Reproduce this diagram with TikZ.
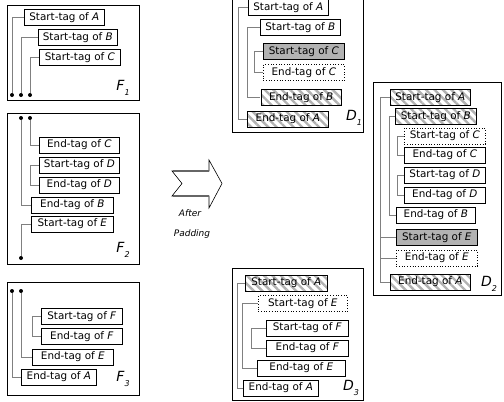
\documentclass[tikz,border=0pt]{standalone}
\usepackage{fontspec}
\setmainfont{DejaVu Sans}
\usetikzlibrary{patterns.meta}
\newcommand\lab[2]{\textit{#1}\raisebox{-0.6ex}{\fontsize{8}{9}\selectfont\textit{#2}}}
\tikzset{tag/.style={draw,line width=0.7pt,anchor=west,minimum height=16pt,inner sep=1pt,font=\fontsize{10.4}{12}\selectfont},
         padded/.style={tag,pattern={Lines[angle=-45,distance=6pt,line width=2.4pt]},pattern color=black!30},
         shaded/.style={tag,fill=black!30},
         dummy/.style={tag,dotted},
         frame/.style={draw,line width=0.9pt},
         conn/.style={draw=black!50,line width=1pt},
         dot/.style={circle,fill,inner sep=0pt,minimum size=4pt},
         panel/.style={font=\fontsize{14}{15}\selectfont},
        }

\begin{document}
\begin{tikzpicture}[x=1pt,y=-1pt]
        \useasboundingbox(0,0)rectangle(504,402);
        \draw[frame](7,5)rectangle(139,100);
        \draw[frame](7,113)rectangle(139,264);
        \draw[frame](7,282)rectangle(139,395);
        \draw[frame](232,-2)rectangle(363,132);
        \draw[frame](373,82)rectangle(501,295);
        \draw[frame](232,268)rectangle(363,400);

        \node[tag,minimum width=80pt](f1sA)at(24,17.5){Start-tag of \textit{A}};
        \node[tag,minimum width=79pt](f1sB)at(38,37.5){Start-tag of \textit{B}};
        \node[tag,minimum width=81pt](f1sC)at(39,57.5){Start-tag of \textit{C}};
        \node[dot](f1dA)at(12,95){};
        \node[dot](f1dB)at(21,95){};
        \node[dot](f1dC)at(30,95){};
        \node[panel](f1)at(123,88){\lab{F}{1}};
        \draw[conn](f1dA)|-(f1sA.west);
        \draw[conn](f1dB)|-(f1sB.west);
        \draw[conn](f1dC)|-(f1sC.west);

        \node[tag,minimum width=80pt](f2eC)at(39,145){End-tag of \textit{C}};
        \node[tag,minimum width=80pt](f2sD)at(39,165){Start-tag of \textit{D}};
        \node[tag,minimum width=80pt](f2eD)at(39,185){End-tag of \textit{D}};
        \node[tag,minimum width=82pt](f2eB)at(31,205){End-tag of \textit{B}};
        \node[tag,minimum width=82pt](f2sE)at(31,224){Start-tag of \textit{E}};
        \node[dot](f2dB)at(21,118){};
        \node[dot](f2dC)at(30,118){};
        \node[dot](f2dE)at(21,258){};
        \node[panel](f2)at(123,250){\lab{F}{2}};
        \draw[conn](f2dC)|-(f2eC.west);
        \draw[conn](f2dB)|-(f2eB.west);
        \draw[conn](f2dE)|-(f2sE.west);
        \draw[conn](f2sD.west)--++(-9,0)|-(f2eD.west);

        \node[tag,minimum width=81pt](f3sF)at(41,316.5){Start-tag of \textit{F}};
        \node[tag,minimum width=81pt](f3eF)at(41,336.5){End-tag of \textit{F}};
        \node[tag,minimum width=81pt](f3eE)at(32,357){End-tag of \textit{E}};
        \node[tag,minimum width=75pt](f3eA)at(21,377){End-tag of \textit{A}};
        \node[dot](f3dA)at(12,291){};
        \node[dot](f3dE)at(21,291){};
        \node[panel](f3)at(123,379){\lab{F}{3}};
        \draw[conn](f3dA)|-(f3eA.west);
        \draw[conn](f3dE)|-(f3eE.west);
        \draw[conn](f3sF.west)--++(-9,0)|-(f3eF.west);

        \draw[line width=0.6pt](172,171)--(182,183.5)--(172,196)--(209,196)--(209,208)--(222,183.5)--(209,160)--(209,171)--cycle;
        \draw[black!60,line width=1.4pt](173,171)--(209,171) (173,196)--(209,196);
        \node[font=\fontsize{9}{10}\selectfont\itshape](after)at(190,213){After};
        \node[font=\fontsize{9}{10}\selectfont\itshape](padding)at(192,234){Padding};

        \node[tag,minimum width=80pt](d1sA)at(248,7.5){Start-tag of \textit{A}};
        \node[tag,minimum width=80pt](d1sB)at(260,27.5){Start-tag of \textit{B}};
        \node[shaded,minimum width=81pt](d1sC)at(263,51.5){Start-tag of \textit{C}};
        \node[dummy,minimum width=81pt](d1eC)at(263,72.5){End-tag of \textit{C}};
        \node[padded,minimum width=80pt](d1eB)at(260,97.5){End-tag of \textit{B}};
        \node[padded,minimum width=81pt](d1eA)at(247,119){End-tag of \textit{A}};
        \node[panel](d1)at(354,118){\lab{D}{1}};
        \draw[conn](d1sA.west)--++(-10,0)|-(d1eA.west);
        \draw[conn](d1sB.west)--++(-13,0)|-(d1eB.west);
        \draw[conn](d1sC.west)--++(-9,0)|-(d1eC.west);

        \node[padded,minimum width=80pt](d2sA)at(390,97.5){Start-tag of \textit{A}};
        \node[padded,minimum width=81pt](d2sB)at(395,116.5){Start-tag of \textit{B}};
        \node[dummy,minimum width=81pt](d2sC)at(404,136){Start-tag of \textit{C}};
        \node[tag,minimum width=81pt](d2eC)at(404,155){End-tag of \textit{C}};
        \node[tag,minimum width=81pt](d2sD)at(404,175){Start-tag of \textit{D}};
        \node[tag,minimum width=81pt](d2eD)at(404,195){End-tag of \textit{D}};
        \node[tag,minimum width=79pt](d2eB)at(396,215){End-tag of \textit{B}};
        \node[shaded,minimum width=81pt](d2sE)at(396,237.5){Start-tag of \textit{E}};
        \node[dummy,minimum width=81pt](d2eE)at(396,258){End-tag of \textit{E}};
        \node[padded,minimum width=80pt](d2eA)at(390,282){End-tag of \textit{A}};
        \node[panel](d2)at(489,284){\lab{D}{2}};
        \draw[conn](d2sA.west)--++(-10,0)|-(d2eA.west);
        \draw[conn](d2sB.west)--++(-6,0)|-(d2eB.west);
        \draw[conn](d2sC.west)--++(-7,0)|-(d2eC.west);
        \draw[conn](d2sD.west)--++(-7,0)|-(d2eD.west);
        \draw[conn](d2sE.west)--++(-16,0);
        \draw[conn](d2eE.west)--++(-16,0);

        \node[padded,minimum width=82pt](d3sA)at(245,283){Start-tag of \textit{A}};
        \node[dummy,minimum width=89pt](d3sE)at(258,303.5){Start-tag of \textit{E}};
        \node[tag,minimum width=82pt](d3sF)at(266,328){Start-tag of \textit{F}};
        \node[tag,minimum width=82pt](d3eF)at(266,348){End-tag of \textit{F}};
        \node[tag,minimum width=88pt](d3eE)at(257,368){End-tag of \textit{E}};
        \node[tag,minimum width=75pt](d3eA)at(243,388){End-tag of \textit{A}};
        \node[panel](d3)at(351,388){\lab{D}{3}};
        \draw[conn](d3sA.west)--++(-8,0)|-(d3eA.west);
        \draw[conn](d3sE.west)--++(-16,0)|-(d3eE.west);
        \draw[conn](d3sF.west)--++(-15,0)|-(d3eF.west);
    \end{tikzpicture}
\end{document}
